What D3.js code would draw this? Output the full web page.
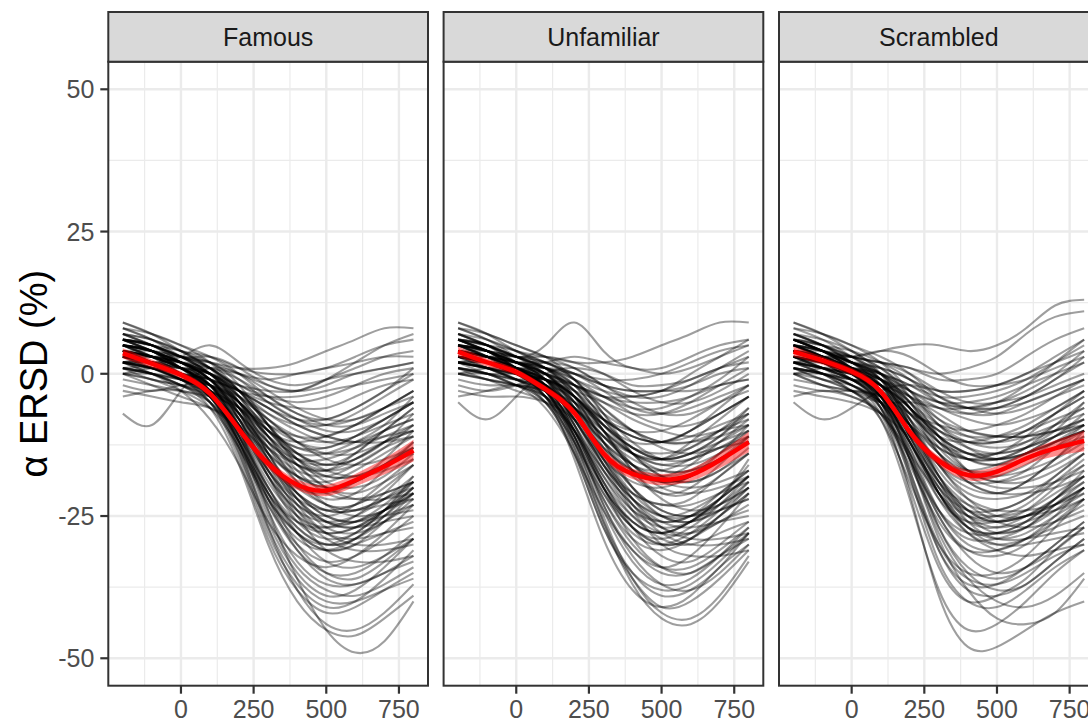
<!DOCTYPE html>
<html>
<head>
<meta charset="utf-8">
<script src="https://cdn.jsdelivr.net/npm/d3@7"></script>
<style>
  html, body { margin: 0; padding: 0; background: #fff; overflow: hidden; }
  svg { display: block; font-family: "Liberation Sans", Arial, Helvetica, sans-serif; }
</style>
</head>
<body>
<svg id="chart" width="1088" height="723"></svg>
<script>
// ---------------- DATA ----------------
const facets = ["Famous", "Unfamiliar", "Scrambled"];
const times = [-200, -100, 0, 100, 200, 300, 400, 500, 600, 700, 800];
const xTicks = [0, 250, 500, 750];
const xMinor = [-125, 125, 375, 625];
const yTicks = [-50, -25, 0, 25, 50];
const yMinor = [-37.5, -12.5, 12.5, 37.5];
const yTitle = "α ERSD (%)";

// individual subject curves (values at each time in `times`)
const famousCurves = [
  [6, 5, 3, 2, 1, 1, 2, 4, 6, 8, 8],
  [8, 6, 4, 3, 1, 0, 0, 1, 3, 5, 6],
  [4, 3, 2, 1, 0, -1, 0, 1, 2, 3, 3],
  [5, 4, 2, 0, -2, -3, -3, -1, 1, 3, 4],
  [2, 2, 3, 5, 2, -1, -2, -1, 0, 1, 2],
  [7, 6, 4, 1, -2, -4, -5, -4, -2, 0, 1],
  [3, 2, 0, -1, -3, -4, -4, -3, -2, -1, 0],
  [6, 5, 3, 3, 1, -2, -3, -1, 2, 5, 7],
  [-7, -9, -3, 1, 0, -2, -3, -2, 0, 1, 2],
  [4, 3, 1, -1, -3, -5, -6, -6, -4, -2, -1],
  [5, 4, 2, 0, -4, -8, -11, -12, -11, -9, -7],
  [3, 2, 1, -1, -5, -10, -13, -13, -11, -8, -5],
  [6, 5, 3, 0, -5, -10, -12, -11, -9, -6, -3],
  [2, 1, -1, -3, -7, -12, -15, -15, -13, -10, -8],
  [4, 3, 2, 0, -3, -7, -10, -12, -12, -10, -8],
  [1, 0, -2, -4, -8, -13, -16, -17, -15, -12, -10],
  [7, 5, 3, 1, -3, -9, -14, -16, -15, -12, -9],
  [3, 3, 1, -2, -6, -11, -14, -14, -12, -9, -4],
  [5, 4, 2, -1, -6, -12, -16, -18, -18, -16, -14],
  [0, -1, -2, -3, -6, -10, -13, -14, -13, -11, -9],
  [4, 2, 0, -1, -4, -8, -12, -15, -16, -15, -13],
  [6, 4, 2, 0, -5, -11, -15, -16, -14, -10, -6],
  [2, 1, 0, -2, -7, -14, -18, -19, -17, -14, -11],
  [3, 2, 1, 0, -3, -6, -9, -11, -12, -12, -11],
  [5, 3, 1, -2, -7, -13, -17, -18, -16, -13, -11],
  [4, 3, 1, -2, -9, -18, -24, -26, -25, -22, -18],
  [6, 4, 2, -1, -8, -17, -23, -25, -23, -19, -15],
  [2, 1, -1, -4, -11, -20, -26, -28, -27, -24, -20],
  [3, 2, 0, -3, -10, -19, -25, -27, -26, -24, -22],
  [5, 4, 1, -2, -9, -17, -22, -24, -23, -21, -19],
  [1, 0, -2, -5, -12, -21, -27, -30, -29, -26, -23],
  [4, 3, 2, -1, -7, -15, -21, -24, -24, -22, -20],
  [7, 5, 2, -2, -10, -20, -27, -30, -29, -25, -20],
  [3, 1, -1, -3, -8, -16, -22, -26, -27, -26, -25],
  [2, 2, 0, -3, -11, -22, -29, -31, -29, -25, -21],
  [5, 3, 1, -3, -12, -22, -28, -30, -28, -24, -18],
  [0, -1, -3, -6, -13, -22, -28, -31, -30, -28, -26],
  [4, 3, 1, -2, -8, -15, -20, -23, -24, -23, -22],
  [6, 5, 3, 0, -6, -14, -21, -25, -26, -25, -24],
  [3, 2, 0, -4, -12, -21, -26, -27, -25, -21, -16],
  [1, 1, -1, -4, -10, -18, -24, -28, -29, -28, -27],
  [5, 4, 2, -1, -8, -18, -26, -29, -28, -24, -19],
  [2, 0, -2, -5, -13, -23, -30, -33, -32, -29, -25],
  [4, 3, 1, -3, -13, -26, -35, -39, -38, -34, -29],
  [3, 2, 0, -4, -14, -28, -37, -41, -40, -36, -31],
  [6, 4, 1, -3, -12, -25, -34, -38, -39, -37, -34],
  [2, 1, -1, -5, -15, -29, -38, -42, -41, -38, -35],
  [5, 3, 0, -4, -13, -27, -38, -44, -45, -42, -37],
  [1, 0, -2, -6, -16, -30, -40, -45, -46, -43, -39],
  [3, 2, 0, -3, -11, -24, -36, -45, -49, -47, -40],
  [4, 2, -1, -5, -14, -27, -36, -40, -40, -38, -36],
  [2, 1, -1, -4, -12, -24, -33, -37, -37, -35, -33],
  [5, 4, 1, -2, -10, -22, -31, -36, -37, -35, -32],
  [9, 7, 5, 3, 0, -4, -7, -8, -6, -3, 0],
  [-3, -4, -5, -6, -9, -14, -18, -20, -19, -16, -13],
  [0, -2, -4, -6, -10, -16, -21, -24, -24, -22, -19],
  [2, 0, -3, -8, -16, -26, -32, -34, -32, -28, -23],
  [8, 7, 5, 2, -3, -9, -14, -17, -18, -17, -15],
  [-1, -2, -3, -4, -6, -9, -11, -11, -9, -6, -3],
  [6, 5, 4, 2, -1, -5, -8, -9, -8, -6, -4],
  [3, 1, -1, -3, -6, -11, -16, -20, -22, -22, -21],
  [5, 4, 3, 1, -4, -12, -19, -23, -23, -20, -16],
  [1, 0, -1, -2, -4, -7, -9, -9, -7, -4, -1],
  [7, 6, 4, 1, -5, -14, -22, -27, -28, -26, -22],
  [4, 4, 3, 2, 0, -3, -6, -8, -8, -6, -3],
  [-4, -3, -3, -5, -11, -20, -28, -33, -34, -32, -29],
  [2, 3, 3, 2, -2, -9, -16, -20, -21, -19, -16],
  [6, 4, 1, -3, -9, -16, -20, -21, -19, -15, -10],
  [3, 2, 1, 0, -2, -5, -8, -10, -10, -8, -5],
  [5, 3, 0, -4, -12, -23, -31, -35, -35, -32, -28],
  [0, 1, 1, 0, -4, -10, -15, -18, -18, -16, -13],
  [8, 6, 3, 0, -6, -15, -23, -28, -30, -30, -29],
  [4, 2, 0, -2, -5, -9, -12, -13, -11, -8, -5],
  [1, -1, -2, -4, -9, -17, -23, -26, -26, -23, -19],
  [6, 5, 3, 1, -3, -9, -15, -19, -20, -18, -14],
  [2, 2, 1, -1, -5, -11, -17, -21, -22, -21, -19],
  [5, 4, 2, -1, -7, -16, -24, -29, -31, -31, -30],
  [3, 3, 2, 0, -3, -6, -8, -8, -6, -3, 1],
  [-2, -3, -2, -2, -5, -11, -18, -23, -25, -24, -21],
  [7, 5, 3, 0, -5, -13, -19, -22, -21, -17, -12],
  [4, 3, 2, -1, -6, -14, -21, -25, -26, -24, -21],
  [2, 1, 0, -1, -3, -6, -9, -11, -12, -11, -10],
  [6, 5, 2, -2, -10, -21, -30, -35, -36, -33, -29],
  [0, 0, -1, -3, -7, -13, -18, -20, -19, -16, -12],
  [5, 3, 2, 0, -4, -10, -15, -17, -16, -13, -9],
  [3, 2, 0, -3, -9, -18, -25, -28, -27, -24, -20],
  [9, 7, 4, 1, -3, -8, -12, -14, -14, -12, -10],
  [1, 0, -1, -2, -5, -10, -14, -16, -15, -12, -7],
  [4, 3, 1, -2, -8, -17, -25, -31, -33, -33, -32],
  [2, 1, 0, -2, -6, -12, -16, -17, -14, -10, -6],
  [6, 4, 2, -1, -7, -15, -22, -26, -27, -25, -23],
  [3, 2, 2, 1, -1, -4, -7, -9, -9, -7, -5],
  [5, 4, 1, -3, -11, -21, -28, -31, -30, -26, -21]
];

const unfamiliarCurves = [
  [8, 6, 4, 3, 2, 2, 3, 5, 7, 9, 9],
  [6, 5, 3, 5, 9, 4, 1, 1, 3, 5, 6],
  [5, 4, 2, 2, 3, 2, 1, 0, 1, 3, 5],
  [7, 5, 3, 1, 0, -1, -1, 0, 2, 4, 5],
  [-5, -8, -4, 0, 1, 0, -2, -2, -1, 1, 2],
  [4, 3, 2, 1, -1, -3, -4, -3, -1, 1, 3],
  [3, 2, 1, 1, 0, -2, -3, -3, -2, 0, 1],
  [6, 4, 2, 0, -2, -4, -4, -3, 0, 3, 6],
  [2, 1, 0, -1, -2, -4, -5, -5, -4, -2, -1],
  [5, 4, 3, 2, 0, -2, -3, -3, -3, -2, -1],
  [5, 3, 1, -1, -5, -9, -12, -12, -10, -7, -4],
  [4, 3, 2, 0, -4, -8, -11, -12, -11, -9, -7],
  [7, 5, 3, 1, -3, -8, -11, -12, -10, -6, -2],
  [2, 1, 0, -2, -6, -11, -14, -15, -13, -10, -7],
  [3, 2, 1, -1, -5, -10, -14, -16, -15, -13, -10],
  [6, 4, 2, 0, -4, -9, -13, -14, -13, -10, -6],
  [1, 0, -1, -3, -7, -12, -16, -17, -15, -12, -9],
  [4, 3, 1, -2, -6, -11, -15, -17, -17, -15, -12],
  [5, 4, 2, 0, -3, -7, -10, -12, -12, -11, -9],
  [3, 2, 0, -2, -7, -13, -17, -18, -16, -12, -8],
  [0, -1, -2, -3, -6, -10, -14, -16, -16, -14, -11],
  [6, 5, 3, 1, -2, -6, -10, -13, -14, -13, -12],
  [4, 2, 0, -1, -5, -11, -16, -19, -18, -15, -12],
  [2, 2, 1, -1, -4, -9, -13, -15, -14, -12, -10],
  [5, 3, 1, -1, -6, -12, -16, -18, -17, -14, -10],
  [4, 3, 1, -2, -8, -16, -22, -25, -24, -21, -17],
  [6, 4, 2, -1, -7, -15, -21, -23, -22, -18, -14],
  [3, 2, 0, -3, -10, -18, -24, -26, -25, -21, -17],
  [2, 1, -1, -4, -11, -20, -26, -28, -26, -22, -18],
  [5, 4, 1, -2, -8, -16, -21, -23, -23, -21, -19],
  [1, 0, -2, -4, -10, -19, -25, -28, -28, -25, -21],
  [7, 5, 2, -1, -9, -19, -26, -28, -26, -22, -16],
  [3, 2, 0, -2, -7, -14, -20, -24, -25, -24, -22],
  [4, 3, 1, -3, -11, -21, -28, -30, -28, -24, -19],
  [2, 1, -1, -3, -9, -17, -23, -27, -28, -26, -23],
  [5, 3, 1, -2, -10, -20, -27, -29, -27, -23, -18],
  [0, -1, -2, -5, -12, -21, -27, -30, -29, -26, -24],
  [4, 3, 2, -1, -7, -15, -22, -26, -27, -26, -25],
  [6, 4, 2, -2, -10, -20, -26, -28, -26, -22, -15],
  [3, 1, -1, -4, -12, -22, -29, -31, -29, -25, -21],
  [2, 1, 0, -3, -9, -18, -25, -29, -30, -28, -26],
  [4, 3, 1, -3, -12, -24, -33, -37, -36, -32, -27],
  [3, 2, 0, -4, -13, -26, -35, -39, -38, -34, -28],
  [5, 4, 1, -3, -11, -23, -32, -37, -38, -35, -30],
  [2, 1, -1, -5, -14, -27, -36, -41, -40, -36, -31],
  [4, 2, 0, -4, -13, -26, -37, -43, -44, -40, -33],
  [6, 4, 1, -3, -12, -25, -36, -42, -43, -39, -32],
  [1, 0, -2, -5, -14, -27, -35, -38, -37, -33, -28],
  [3, 2, 0, -3, -11, -23, -31, -35, -35, -32, -29],
  [5, 3, 0, -4, -15, -29, -38, -41, -39, -34, -30],
  [9, 7, 5, 3, 1, -2, -4, -4, -2, 1, 4],
  [-3, -4, -4, -5, -8, -13, -17, -19, -18, -15, -12],
  [0, -1, -3, -5, -10, -17, -23, -26, -25, -22, -18],
  [2, 0, -2, -6, -14, -24, -31, -34, -32, -27, -21],
  [8, 7, 5, 3, -1, -7, -12, -15, -15, -13, -11],
  [-1, -2, -2, -3, -5, -8, -10, -10, -8, -5, -2],
  [6, 5, 4, 2, 0, -3, -6, -7, -6, -4, -2],
  [3, 1, -1, -3, -6, -11, -16, -19, -20, -19, -17],
  [5, 4, 3, 1, -3, -10, -17, -21, -21, -18, -14],
  [1, 0, 0, -1, -3, -5, -7, -7, -5, -2, 1],
  [7, 6, 4, 1, -4, -12, -20, -25, -26, -24, -20],
  [4, 4, 3, 3, 2, 0, -3, -5, -5, -3, 0],
  [-4, -3, -2, -4, -10, -19, -27, -32, -33, -30, -26],
  [2, 3, 3, 2, -1, -7, -14, -18, -19, -17, -14],
  [6, 4, 1, -2, -8, -15, -19, -20, -18, -14, -9],
  [3, 2, 1, 0, -2, -4, -7, -9, -9, -7, -4],
  [5, 3, 0, -3, -11, -22, -30, -34, -34, -31, -27],
  [0, 1, 1, 0, -3, -9, -14, -17, -17, -15, -12],
  [8, 6, 3, 0, -5, -14, -22, -27, -29, -29, -28],
  [4, 2, 0, -2, -4, -8, -11, -12, -10, -7, -4],
  [1, -1, -2, -4, -8, -16, -22, -25, -25, -22, -18],
  [6, 5, 3, 1, -2, -8, -14, -18, -19, -17, -13],
  [2, 2, 1, -1, -4, -10, -16, -20, -21, -20, -18],
  [5, 4, 2, 0, -6, -15, -23, -28, -30, -30, -29],
  [3, 3, 2, 1, -1, -4, -6, -6, -4, -1, 3],
  [-2, -3, -2, -1, -4, -10, -17, -22, -24, -23, -20],
  [7, 5, 3, 1, -4, -12, -18, -21, -20, -16, -11],
  [4, 3, 2, 0, -5, -13, -20, -24, -25, -23, -20],
  [2, 1, 0, 0, -2, -5, -8, -10, -11, -10, -9],
  [6, 5, 2, -1, -9, -20, -29, -34, -35, -32, -28],
  [0, 0, -1, -2, -6, -12, -17, -19, -18, -15, -11],
  [5, 3, 2, 1, -2, -8, -13, -15, -14, -11, -7],
  [3, 2, 0, -2, -8, -17, -24, -27, -26, -23, -19],
  [9, 7, 4, 2, -1, -6, -10, -12, -12, -10, -8],
  [1, 0, -1, -1, -4, -9, -13, -15, -14, -11, -6],
  [4, 3, 1, -1, -7, -16, -24, -30, -32, -32, -31],
  [2, 1, 0, -1, -4, -10, -14, -15, -12, -8, -4],
  [6, 4, 2, 0, -6, -14, -21, -25, -26, -24, -22],
  [3, 2, 2, 2, 1, -2, -5, -7, -7, -5, -3],
  [5, 4, 1, -2, -10, -20, -27, -30, -29, -25, -20]
];

const scrambledCurves = [
  [6, 4, 3, 4, 5, 5, 4, 5, 8, 12, 13],
  [5, 4, 3, 2, 1, 0, 1, 3, 7, 10, 11],
  [7, 5, 3, 2, 1, -1, -1, 0, 3, 6, 8],
  [4, 3, 3, 4, 3, 0, -2, -2, -1, 1, 3],
  [-5, -8, -6, -3, -2, -3, -3, -2, 0, 2, 4],
  [3, 2, 1, 0, -2, -4, -4, -3, -1, 2, 5],
  [6, 4, 2, 0, -3, -5, -5, -4, -2, 0, 2],
  [2, 1, 0, -1, -3, -5, -6, -6, -5, -3, -1],
  [5, 4, 2, 1, -1, -3, -3, -2, 0, 3, 6],
  [1, -1, -3, -5, -5, -6, -6, -5, -4, -2, 0],
  [5, 3, 1, -2, -7, -11, -12, -11, -9, -6, -3],
  [4, 3, 1, -1, -5, -9, -11, -11, -10, -8, -6],
  [7, 5, 2, -1, -6, -10, -12, -12, -10, -7, -4],
  [3, 2, 0, -3, -8, -13, -15, -14, -12, -9, -6],
  [2, 1, -1, -3, -7, -12, -14, -14, -13, -11, -9],
  [6, 4, 2, 0, -4, -9, -12, -13, -12, -10, -8],
  [1, 0, -2, -5, -10, -15, -17, -16, -14, -11, -8],
  [4, 2, 0, -2, -7, -12, -15, -16, -15, -13, -11],
  [3, 2, 1, -1, -4, -8, -10, -11, -11, -10, -8],
  [5, 3, 1, -2, -8, -14, -17, -17, -15, -12, -9],
  [0, -2, -3, -5, -9, -13, -15, -15, -14, -12, -10],
  [6, 4, 2, -1, -6, -12, -15, -15, -13, -9, -5],
  [2, 1, 0, -2, -6, -11, -14, -15, -14, -12, -10],
  [4, 3, 1, -1, -5, -10, -13, -14, -13, -11, -9],
  [4, 2, 0, -4, -12, -20, -24, -24, -22, -18, -14],
  [6, 4, 1, -3, -11, -19, -23, -24, -22, -19, -16],
  [3, 1, -1, -5, -13, -22, -26, -26, -24, -20, -16],
  [2, 1, -1, -4, -11, -19, -24, -25, -24, -21, -18],
  [5, 3, 0, -4, -12, -21, -26, -27, -25, -22, -19],
  [1, 0, -2, -6, -15, -24, -28, -28, -26, -22, -18],
  [7, 5, 2, -2, -10, -19, -25, -27, -26, -24, -21],
  [3, 2, 0, -3, -9, -17, -22, -24, -24, -23, -21],
  [4, 2, -1, -5, -14, -24, -29, -29, -27, -23, -20],
  [2, 0, -2, -5, -12, -21, -27, -29, -28, -25, -22],
  [5, 3, 1, -3, -11, -21, -27, -28, -26, -22, -17],
  [0, -1, -3, -7, -16, -26, -31, -31, -29, -26, -23],
  [4, 3, 0, -4, -12, -22, -28, -30, -29, -27, -25],
  [6, 4, 1, -3, -10, -18, -23, -26, -27, -26, -24],
  [3, 1, -1, -5, -14, -25, -31, -32, -30, -26, -22],
  [4, 2, -1, -6, -18, -31, -37, -37, -34, -30, -26],
  [3, 1, -2, -7, -20, -34, -40, -39, -36, -31, -27],
  [5, 3, 0, -5, -17, -31, -38, -39, -37, -33, -29],
  [2, 0, -3, -8, -22, -38, -45, -44, -40, -35, -31],
  [4, 2, -1, -6, -21, -39, -48, -48, -45, -42, -40],
  [6, 4, 1, -4, -15, -28, -36, -40, -41, -39, -35],
  [1, 0, -2, -6, -17, -30, -36, -37, -35, -32, -30],
  [3, 2, 0, -4, -15, -29, -38, -43, -44, -42, -36],
  [5, 3, 0, -5, -18, -33, -40, -41, -38, -34, -31],
  [9, 7, 5, 3, 0, -4, -6, -6, -4, -1, 3],
  [-3, -4, -5, -7, -11, -15, -18, -18, -16, -13, -10],
  [0, -2, -4, -7, -14, -21, -25, -25, -23, -19, -15],
  [2, 0, -3, -8, -19, -30, -35, -35, -32, -27, -22],
  [8, 7, 5, 2, -3, -9, -13, -15, -14, -12, -10],
  [-1, -2, -3, -4, -7, -9, -10, -9, -7, -4, -1],
  [6, 5, 4, 2, -1, -5, -7, -7, -5, -3, -1],
  [3, 1, -1, -4, -9, -14, -18, -20, -20, -19, -17],
  [5, 4, 2, -1, -8, -16, -21, -22, -21, -18, -14],
  [1, 0, -1, -2, -4, -6, -7, -6, -4, -1, 2],
  [7, 6, 4, 0, -8, -18, -25, -28, -27, -24, -20],
  [4, 4, 3, 2, 0, -3, -5, -5, -3, 0, 4],
  [-4, -3, -4, -7, -15, -25, -32, -35, -34, -31, -27],
  [2, 3, 3, 1, -4, -11, -17, -19, -19, -17, -14],
  [6, 4, 1, -3, -10, -16, -19, -19, -17, -13, -9],
  [3, 2, 1, 0, -3, -6, -8, -9, -8, -6, -3],
  [5, 3, 0, -5, -15, -27, -34, -36, -34, -30, -26],
  [0, 1, 1, -1, -6, -13, -17, -18, -17, -15, -12],
  [8, 6, 3, -1, -9, -19, -26, -29, -29, -28, -27],
  [4, 2, 0, -2, -6, -10, -12, -12, -10, -7, -4],
  [1, -1, -2, -5, -12, -20, -25, -26, -25, -22, -18],
  [6, 5, 3, 0, -5, -12, -17, -19, -18, -16, -13],
  [2, 2, 1, -2, -7, -14, -19, -21, -21, -20, -18],
  [5, 4, 2, -2, -10, -20, -27, -30, -30, -29, -28],
  [3, 3, 2, 0, -2, -5, -6, -5, -2, 2, 6],
  [-2, -3, -3, -4, -9, -16, -22, -25, -25, -23, -20],
  [7, 5, 3, 0, -6, -14, -19, -21, -19, -15, -10],
  [4, 3, 1, -2, -9, -18, -24, -26, -25, -23, -20],
  [2, 1, 0, -1, -4, -7, -10, -11, -11, -10, -9],
  [6, 5, 2, -3, -14, -27, -35, -38, -37, -33, -29],
  [0, 0, -1, -3, -9, -16, -20, -21, -19, -15, -11],
  [5, 3, 2, 0, -5, -11, -15, -16, -14, -11, -7],
  [3, 2, 0, -4, -12, -21, -27, -28, -27, -23, -19],
  [9, 7, 4, 1, -3, -8, -11, -12, -11, -9, -7],
  [1, 0, -1, -2, -6, -11, -14, -15, -13, -10, -5],
  [4, 3, 1, -3, -11, -21, -28, -31, -32, -31, -30],
  [2, 1, 0, -2, -6, -11, -14, -14, -11, -7, -3],
  [6, 4, 2, -1, -9, -18, -24, -26, -25, -24, -22],
  [3, 2, 2, 1, -1, -4, -6, -7, -6, -4, -2],
  [5, 4, 1, -3, -13, -24, -30, -31, -29, -25, -20]
];

// group mean (red) and its ribbon half-width
const famousMean     = [3.6, 1.8, -0.2, -3.5, -9.8, -15.8, -19.5, -20.5, -18.7, -16.3, -13.5];
const unfamiliarMean = [3.9, 2.0, 0.3, -2.7, -6.9, -14.0, -17.6, -18.6, -17.8, -15.2, -12.0];
const scrambledMean  = [3.9, 2.3, 0.4, -3.1, -10.2, -15.3, -17.8, -17.2, -14.9, -13.1, -11.8];
const famousSE       = [0.9, 0.7, 0.6, 0.6, 0.7, 0.8, 0.9, 1.0, 1.1, 1.4, 1.9];
const unfamiliarSE   = [0.9, 0.7, 0.6, 0.6, 0.7, 0.8, 0.9, 1.0, 1.1, 1.4, 1.8];
const scrambledSE    = [0.9, 0.7, 0.6, 0.6, 0.7, 0.8, 0.9, 1.0, 1.1, 1.4, 1.8];

const panelCurves = [famousCurves, unfamiliarCurves, scrambledCurves];
const panelMeans = [famousMean, unfamiliarMean, scrambledMean];
const panelSEs = [famousSE, unfamiliarSE, scrambledSE];

// ---------------- LAYOUT ----------------
const svg = d3.select("#chart");
const panelW = 319.7;
const panelLefts = [108.3, 443.6, 779.0];
const panelTop = 61.7, panelBottom = 685.7;
const stripTop = 12;

const y = d3.scaleLinear().domain([-54.82, 54.85]).range([panelBottom, panelTop]);

const grey20 = "#333333";
const gridCol = "#ebebeb";

// y axis title
svg.append("text")
  .attr("transform", `translate(47,${(panelTop + panelBottom) / 2}) rotate(-90)`)
  .attr("text-anchor", "middle")
  .attr("font-size", 38)
  .attr("fill", "#000")
  .text(yTitle);

// y axis ticks / labels (left of first panel)
const yAxisG = svg.append("g");
yTicks.forEach(v => {
  yAxisG.append("line")
    .attr("x1", panelLefts[0] - 8).attr("x2", panelLefts[0])
    .attr("y1", y(v)).attr("y2", y(v))
    .attr("stroke", grey20).attr("stroke-width", 2.2);
  yAxisG.append("text")
    .attr("x", panelLefts[0] - 14).attr("y", y(v))
    .attr("dy", "0.36em")
    .attr("text-anchor", "end")
    .attr("font-size", 25)
    .attr("fill", "#4d4d4d")
    .text(v);
});

facets.forEach((name, i) => {
  const left = panelLefts[i];
  const x = d3.scaleLinear().domain([-250, 850]).range([left, left + panelW]);
  const g = svg.append("g");

  g.append("rect").attr("x", left).attr("y", panelTop)
    .attr("width", panelW).attr("height", panelBottom - panelTop)
    .attr("fill", "#fff");

  // minor grid
  xMinor.forEach(v => g.append("line")
    .attr("x1", x(v)).attr("x2", x(v)).attr("y1", panelTop).attr("y2", panelBottom)
    .attr("stroke", gridCol).attr("stroke-width", 1.2));
  yMinor.forEach(v => g.append("line")
    .attr("x1", left).attr("x2", left + panelW).attr("y1", y(v)).attr("y2", y(v))
    .attr("stroke", gridCol).attr("stroke-width", 1.2));
  // major grid
  xTicks.forEach(v => g.append("line")
    .attr("x1", x(v)).attr("x2", x(v)).attr("y1", panelTop).attr("y2", panelBottom)
    .attr("stroke", gridCol).attr("stroke-width", 2.4));
  yTicks.forEach(v => g.append("line")
    .attr("x1", left).attr("x2", left + panelW).attr("y1", y(v)).attr("y2", y(v))
    .attr("stroke", gridCol).attr("stroke-width", 2.4));

  // subject curves
  const line = d3.line()
    .x((d, j) => x(times[j]))
    .y(d => y(d))
    .curve(d3.curveNatural);
  g.append("g")
    .selectAll("path")
    .data(panelCurves[i])
    .join("path")
    .attr("d", line)
    .attr("fill", "none")
    .attr("stroke", "#000")
    .attr("stroke-opacity", 0.38)
    .attr("stroke-width", 2.1);

  // ribbon + mean
  const mean = panelMeans[i], se = panelSEs[i];
  const area = d3.area()
    .x((d, j) => x(times[j]))
    .y0((d, j) => y(mean[j] - se[j]))
    .y1((d, j) => y(mean[j] + se[j]))
    .curve(d3.curveNatural);
  g.append("path")
    .datum(mean)
    .attr("d", area)
    .attr("fill", "#ff0000")
    .attr("fill-opacity", 0.45);
  g.append("path")
    .datum(mean)
    .attr("d", line)
    .attr("fill", "none")
    .attr("stroke", "#ff0000")
    .attr("stroke-width", 4.5);

  // panel border
  g.append("rect").attr("x", left).attr("y", panelTop)
    .attr("width", panelW).attr("height", panelBottom - panelTop)
    .attr("fill", "none").attr("stroke", grey20).attr("stroke-width", 2);

  // strip
  g.append("rect").attr("x", left).attr("y", stripTop)
    .attr("width", panelW).attr("height", panelTop - stripTop)
    .attr("fill", "#d9d9d9").attr("stroke", grey20).attr("stroke-width", 2);
  g.append("text")
    .attr("x", left + panelW / 2).attr("y", (stripTop + panelTop) / 2)
    .attr("dy", "0.36em")
    .attr("text-anchor", "middle")
    .attr("font-size", 25)
    .attr("fill", "#1a1a1a")
    .text(name);

  // x ticks and labels
  xTicks.forEach(v => {
    g.append("line")
      .attr("x1", x(v)).attr("x2", x(v))
      .attr("y1", panelBottom).attr("y2", panelBottom + 8)
      .attr("stroke", grey20).attr("stroke-width", 2.2);
    g.append("text")
      .attr("x", x(v)).attr("y", 718)
      .attr("text-anchor", "middle")
      .attr("font-size", 25)
      .attr("fill", "#4d4d4d")
      .text(v);
  });
});
</script>
</body>
</html>
